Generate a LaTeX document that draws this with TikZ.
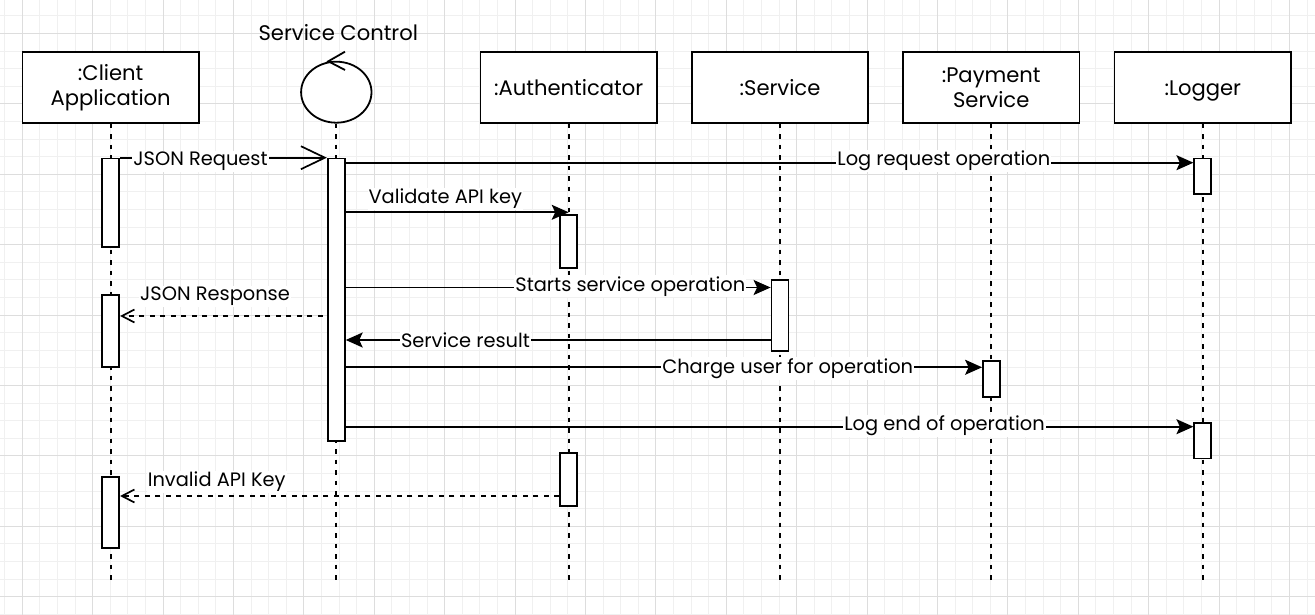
\documentclass[tikz,border=0pt]{standalone}
\usepackage{fontspec}
\setmainfont{Poppins}
\usetikzlibrary{arrows.meta,shapes.geometric,calc}
\definecolor{gridminor}{HTML}{F0F0F0}
\definecolor{gridmajor}{HTML}{DDDDDD}
\tikzset{
  head/.style={draw, line width=1.8pt, fill=white, minimum width=176.5pt, minimum height=70.4pt, inner sep=0pt, align=center, font=\fontsize{21.1}{25}\selectfont},
  onehead/.style={head, text height=15.5pt, text depth=0pt},
  bar/.style={draw, line width=1.8pt, fill=white, minimum width=17pt, inner sep=0pt, anchor=north},
  lifeline/.style={line width=1.8pt, dash pattern=on 4.5pt off 6pt},
  msg/.style={line width=1.7pt, -{Stealth[length=17pt,width=15pt,inset=3.5pt]}},
  reply/.style={line width=1.7pt, dash pattern=on 5pt off 5.5pt, -{Straight Barb[length=12.5pt,width=13pt]}},
  call/.style={line width=1.7pt, -{Straight Barb[length=24pt,width=23pt]}},
  lbl/.style={fill=white, inner sep=1pt, font=\fontsize{19.4}{24}\selectfont, anchor=base},
  gminor/.style={gridminor, line width=1pt},
  gmajor/.style={gridmajor, line width=1pt},
}
\begin{document}
\begin{tikzpicture}[x=1pt, y=-1pt]
\path[use as bounding box] (0,0) rectangle (1315,615);
\clip (0,0) rectangle (1315,615);
\fill[white] (0,0) rectangle (1315,615);
% grid
\foreach \i in {0,...,75} \draw[gminor] (4.7+17.6*\i,0) -- (4.7+17.6*\i,615);
\foreach \i in {0,...,36} \draw[gminor] (0,15.9+17.6*\i) -- (1315,15.9+17.6*\i);
\foreach \i in {0,...,19} \draw[gmajor] (22.3+70.4*\i,0) -- (22.3+70.4*\i,615);
\foreach \i in {0,...,9} \draw[gmajor] (0,33.5+70.4*\i) -- (1315,33.5+70.4*\i);

% heads
\node[head] (client) at (110.7,87.5) {:Client\\Application};
\node[draw, line width=1.8pt, fill=white, ellipse, minimum width=70.4pt, minimum height=61pt, inner sep=0pt] (sc) at (336.3,92.2) {};
\draw[line width=1.8pt] (345,51.7) -- (328.3,61.3) -- (345,70);
\node[lbl, fill=none, font=\fontsize{21.1}{25}\selectfont] (sclabel) at (338.3,40.7) {Service Control};
\node[onehead] (auth) at (568.7,87.5) {:Authenticator};
\node[onehead] (svc) at (780,87.5) {:Service};
\node[head] (pay) at (991.2,87.5) {:Payment\\Service};
\node[onehead] (log) at (1202.8,87.5) {:Logger};

% lifelines
\coordinate (endy) at (0,580);
\foreach \n in {client,sc,auth,svc,pay,log}
  \draw[lifeline] (\n.south) -- (\n.south |- endy);

% activation bars
\node[bar, minimum height=88.3pt] (cb1) at (110.7,157.7) {};
\node[bar, minimum height=71.7pt] (cb2) at (110.7,294.3) {};
\node[bar, minimum height=71pt] (cb3) at (110.7,476) {};
\node[bar, minimum height=282.3pt] (scb) at (336.3,157.7) {};
\node[bar, minimum height=53.3pt] (ab1) at (568.7,214) {};
\node[bar, minimum height=53.3pt] (ab2) at (568.7,451.7) {};
\node[bar, minimum height=71pt] (sb) at (780,279) {};
\node[bar, minimum height=36pt] (pb) at (991.5,360) {};
\node[bar, minimum height=35.3pt] (lb1) at (1202.8,157.7) {};
\node[bar, minimum height=35.8pt] (lb2) at (1202.8,421.7) {};

% messages
\draw[call] (cb1.north east) -- (scb.north west);
\draw[msg] (scb.east |- 0,162.7) -- (lb1.west |- 0,162.7);
\draw[msg] (scb.east |- 0,212.3) -- (ab1.north |- 0,212.3);
\draw[msg] (scb.east |- 0,287.5) -- (sb.west |- 0,287.5);
\draw[reply, shorten <=4pt] (scb.west |- 0,316) -- (cb2.east |- 0,316);
\draw[msg] (sb.west |- 0,340) -- (scb.east |- 0,340);
\draw[msg] (scb.east |- 0,367.3) -- (pb.west |- 0,367.3);
\draw[msg] (scb.east |- 0,426.7) -- (lb2.west |- 0,426.7);
\draw[reply] (ab2.west |- 0,496) -- (cb3.east |- 0,496);

% labels
\node[lbl] (t1) at (200.5,165.7) {JSON Request};
\node[lbl] (t2) at (943.8,165.7) {Log request operation};
\node[lbl] (t3) at (445.3,204) {Validate API key};
\node[lbl] (t4) at (630.3,291) {Starts service operation};
\node[lbl] (t5) at (215,300.7) {JSON Response};
\node[lbl] (t6) at (465.5,347.3) {Service result};
\node[lbl] (t7) at (787.7,373.3) {Charge user for operation};
\node[lbl] (t8) at (944.5,430.7) {Log end of operation};
\node[lbl] (t9) at (216.7,486.7) {Invalid API Key};
\end{tikzpicture}
\end{document}
